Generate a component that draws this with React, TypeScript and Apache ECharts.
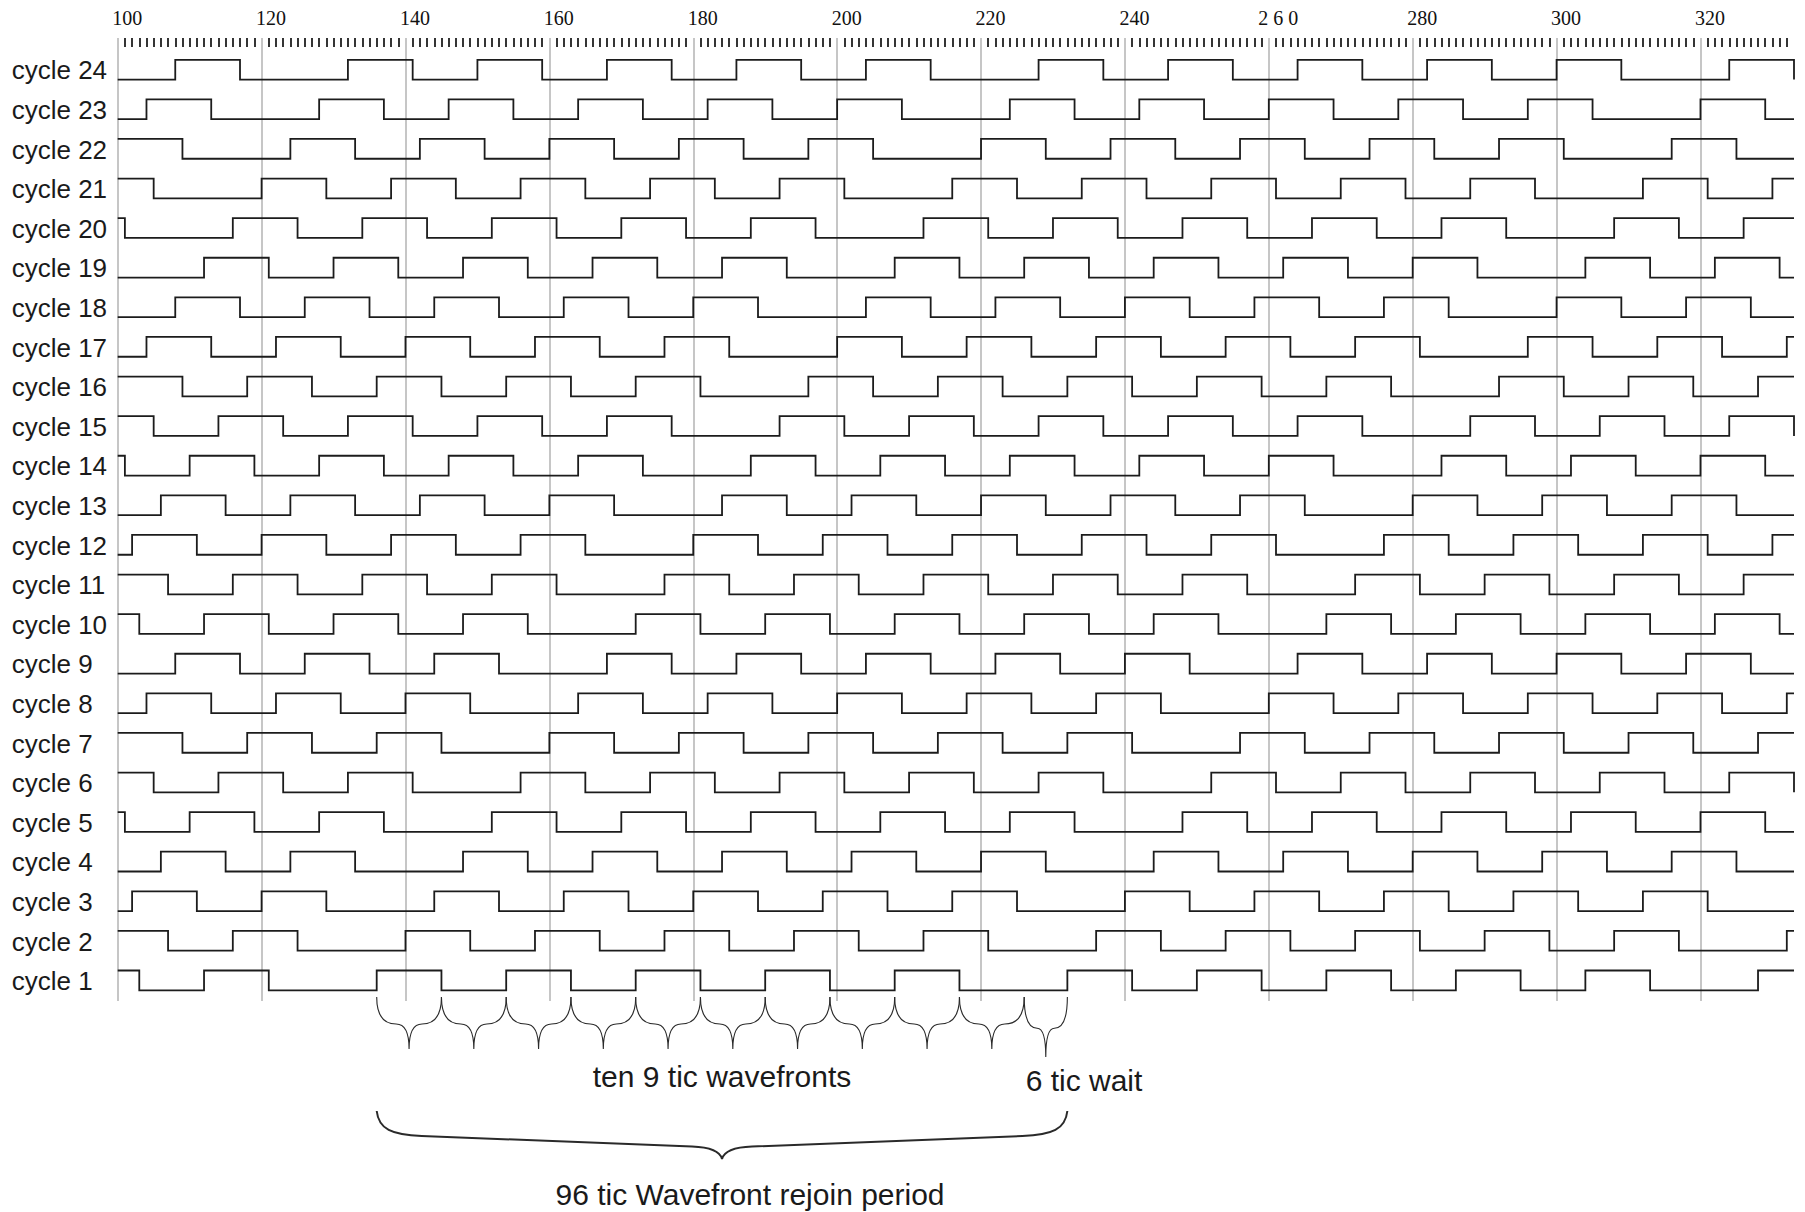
import React, { useEffect, useRef } from 'react';
import * as echarts from 'echarts';

// ---------- data ----------
const X_MIN = 100;
const X_MAX = 333;
const xTickValues = [100, 120, 140, 160, 180, 200, 220, 240, 260, 280, 300, 320];
const xTickLabels = ['100', '120', '140', '160', '180', '200', '220', '240', '2 6 0', '280', '300', '320'];

const cycleLabels = [
  'cycle 1', 'cycle 2', 'cycle 3', 'cycle 4', 'cycle 5', 'cycle 6', 'cycle 7', 'cycle 8',
  'cycle 9', 'cycle 10', 'cycle 11', 'cycle 12', 'cycle 13', 'cycle 14', 'cycle 15', 'cycle 16',
  'cycle 17', 'cycle 18', 'cycle 19', 'cycle 20', 'cycle 21', 'cycle 22', 'cycle 23', 'cycle 24',
];

// level of each cycle at x = 100 (true = high), cycle 1 first
const cycleStartHigh = [
  true, true, false, false, true, true, true, false,
  false, true, true, false, false, true, true, true,
  false, false, false, true, true, true, false, false,
];

// x positions of every edge of each wave, cycle 1 first
const cycle1 = [103, 112, 121, 136, 145, 154, 163, 172, 181, 190, 199, 208, 217, 232, 241, 250, 259, 268, 277, 286, 295, 304, 313, 328];
const cycle2 = [107, 116, 125, 140, 149, 158, 167, 176, 185, 194, 203, 212, 221, 236, 245, 254, 263, 272, 281, 290, 299, 308, 317, 332];
const cycle3 = [102, 111, 120, 129, 144, 153, 162, 171, 180, 189, 198, 207, 216, 225, 240, 249, 258, 267, 276, 285, 294, 303, 312, 321];
const cycle4 = [106, 115, 124, 133, 148, 157, 166, 175, 184, 193, 202, 211, 220, 229, 244, 253, 262, 271, 280, 289, 298, 307, 316, 325];
const cycle5 = [101, 110, 119, 128, 137, 152, 161, 170, 179, 188, 197, 206, 215, 224, 233, 248, 257, 266, 275, 284, 293, 302, 311, 320, 329];
const cycle6 = [105, 114, 123, 132, 141, 156, 165, 174, 183, 192, 201, 210, 219, 228, 237, 252, 261, 270, 279, 288, 297, 306, 315, 324, 333];
const cycle7 = [109, 118, 127, 136, 145, 160, 169, 178, 187, 196, 205, 214, 223, 232, 241, 256, 265, 274, 283, 292, 301, 310, 319, 328];
const cycle8 = [104, 113, 122, 131, 140, 149, 164, 173, 182, 191, 200, 209, 218, 227, 236, 245, 260, 269, 278, 287, 296, 305, 314, 323, 332];
const cycle9 = [108, 117, 126, 135, 144, 153, 168, 177, 186, 195, 204, 213, 222, 231, 240, 249, 264, 273, 282, 291, 300, 309, 318, 327];
const cycle10 = [103, 112, 121, 130, 139, 148, 157, 172, 181, 190, 199, 208, 217, 226, 235, 244, 253, 268, 277, 286, 295, 304, 313, 322, 331];
const cycle11 = [107, 116, 125, 134, 143, 152, 161, 176, 185, 194, 203, 212, 221, 230, 239, 248, 257, 272, 281, 290, 299, 308, 317, 326];
const cycle12 = [102, 111, 120, 129, 138, 147, 156, 165, 180, 189, 198, 207, 216, 225, 234, 243, 252, 261, 276, 285, 294, 303, 312, 321, 330];
const cycle13 = [106, 115, 124, 133, 142, 151, 160, 169, 184, 193, 202, 211, 220, 229, 238, 247, 256, 265, 280, 289, 298, 307, 316, 325];
const cycle14 = [101, 110, 119, 128, 137, 146, 155, 164, 173, 188, 197, 206, 215, 224, 233, 242, 251, 260, 269, 284, 293, 302, 311, 320, 329];
const cycle15 = [105, 114, 123, 132, 141, 150, 159, 168, 177, 192, 201, 210, 219, 228, 237, 246, 255, 264, 273, 288, 297, 306, 315, 324, 333];
const cycle16 = [109, 118, 127, 136, 145, 154, 163, 172, 181, 196, 205, 214, 223, 232, 241, 250, 259, 268, 277, 292, 301, 310, 319, 328];
const cycle17 = [104, 113, 122, 131, 140, 149, 158, 167, 176, 185, 200, 209, 218, 227, 236, 245, 254, 263, 272, 281, 296, 305, 314, 323, 332];
const cycle18 = [108, 117, 126, 135, 144, 153, 162, 171, 180, 189, 204, 213, 222, 231, 240, 249, 258, 267, 276, 285, 300, 309, 318, 327];
const cycle19 = [112, 121, 130, 139, 148, 157, 166, 175, 184, 193, 208, 217, 226, 235, 244, 253, 262, 271, 280, 289, 304, 313, 322, 331];
const cycle20 = [101, 116, 125, 134, 143, 152, 161, 170, 179, 188, 197, 212, 221, 230, 239, 248, 257, 266, 275, 284, 293, 308, 317, 326];
const cycle21 = [105, 120, 129, 138, 147, 156, 165, 174, 183, 192, 201, 216, 225, 234, 243, 252, 261, 270, 279, 288, 297, 312, 321, 330];
const cycle22 = [109, 124, 133, 142, 151, 160, 169, 178, 187, 196, 205, 220, 229, 238, 247, 256, 265, 274, 283, 292, 301, 316, 325];
const cycle23 = [104, 113, 128, 137, 146, 155, 164, 173, 182, 191, 200, 209, 224, 233, 242, 251, 260, 269, 278, 287, 296, 305, 320, 329];
const cycle24 = [108, 117, 132, 141, 150, 159, 168, 177, 186, 195, 204, 213, 228, 237, 246, 255, 264, 273, 282, 291, 300, 309, 324, 333];

const cycleEdges = [
  cycle1, cycle2, cycle3, cycle4, cycle5, cycle6, cycle7, cycle8, cycle9, cycle10, cycle11, cycle12,
  cycle13, cycle14, cycle15, cycle16, cycle17, cycle18, cycle19, cycle20, cycle21, cycle22, cycle23, cycle24,
];

// annotation braces: [start, end, kind]  kind 0 = 9 tic wavefront, 1 = wait, 2 = rejoin period
const braceItems = [
  [136, 145, 0], [145, 154, 0], [154, 163, 0], [163, 172, 0], [172, 181, 0],
  [181, 190, 0], [190, 199, 0], [199, 208, 0], [208, 217, 0], [217, 226, 0],
  [226, 232, 1],
  [136, 232, 2],
];

const annotationTexts = ['ten 9 tic wavefronts', '6 tic wait', '96 tic Wavefront rejoin period'];

// ---------- styling constants ----------
const W = 1805;
const H = 1212;
const GRID_LEFT = 117.7;
const GRID_RIGHT = 11;
const GRID_TOP = 38;
const GRID_BOTTOM = 211;
const AMP = 0.5;
const Y_MIN = -0.27;
const Y_MAX = 24.05;
const SANS = 'Liberation Sans, Arial, Helvetica, sans-serif';
const SERIF = 'Liberation Serif, Times New Roman, serif';

function buildWave(k: number, startHigh: boolean, edges: number[]) {
  const base = k - 1;
  let high = startHigh;
  const lvl = () => base + (high ? AMP : 0);
  const pts: number[][] = [[X_MIN, lvl()]];
  for (const e of edges) {
    pts.push([e, lvl()]);
    high = !high;
    pts.push([e, lvl()]);
  }
  if (pts[pts.length - 1][0] < X_MAX) pts.push([X_MAX, lvl()]);
  return pts;
}

function smallBrace(x0: number, x1: number, y0: number, yt: number) {
  const xc = (x0 + x1) / 2;
  const half = (x1 - x0) / 2;
  const ym = y0 + (yt - y0) * 0.52;
  const xsL = x0 + half * 0.6;
  const xsR = x1 - half * 0.6;
  return `M${x0},${y0} Q${x0},${ym} ${xsL},${ym} Q${xc},${ym} ${xc},${yt} ` +
    `M${x1},${y0} Q${x1},${ym} ${xsR},${ym} Q${xc},${ym} ${xc},${yt}`;
}

function bigBrace(x0: number, x1: number, y0: number, yt: number) {
  const xc = (x0 + x1) / 2;
  const h = yt - y0;
  return `M${x0},${y0} C${x0 + 2},${y0 + h * 0.38} ${x0 + 15},${y0 + h * 0.5} ${x0 + 45},${y0 + h * 0.52} ` +
    `L${xc - 30},${y0 + h * 0.74} Q${xc - 3},${y0 + h * 0.76} ${xc},${yt} ` +
    `M${x1},${y0} C${x1 - 2},${y0 + h * 0.38} ${x1 - 15},${y0 + h * 0.5} ${x1 - 45},${y0 + h * 0.52} ` +
    `L${xc + 30},${y0 + h * 0.74} Q${xc + 3},${y0 + h * 0.76} ${xc},${yt}`;
}

export default function App() {
  const ref = useRef<HTMLDivElement>(null);

  useEffect(() => {
    if (!ref.current) return;
    const chart = echarts.init(ref.current, undefined, { renderer: 'svg' });

    const waveSeries = cycleEdges.map((edges, i) => ({
      type: 'line',
      name: cycleLabels[i],
      data: buildWave(i + 1, cycleStartHigh[i], edges),
      showSymbol: false,
      symbol: 'none',
      silent: true,
      lineStyle: { color: '#1c1c1c', width: 1.8, cap: 'butt', join: 'miter' },
      z: 3,
    }));

    const braceSeries = {
      type: 'custom',
      coordinateSystem: 'cartesian2d',
      silent: true,
      clip: false,
      data: braceItems.map((b) => [b[0], b[1], b[2], 0]),
      encode: { x: [0, 1], y: 3 },
      renderItem: (params: any, api: any) => {
        const x0 = api.coord([api.value(0), 0])[0];
        const x1 = api.coord([api.value(1), 0])[0];
        const kind = api.value(2);
        let d: string;
        let lw = 1.1;
        if (kind === 2) {
          d = bigBrace(x0, x1, 1111, 1159);
          lw = 2;
        } else if (kind === 1) {
          d = smallBrace(x0, x1, 997, 1057);
        } else {
          d = smallBrace(x0, x1, 997, 1049);
        }
        return {
          type: 'path',
          shape: { pathData: d },
          style: { fill: 'none', stroke: '#2a2a2a', lineWidth: lw },
        };
      },
      z: 4,
    };

    const option: any = {
      animation: false,
      backgroundColor: '#ffffff',
      grid: {
        left: GRID_LEFT,
        right: GRID_RIGHT,
        top: GRID_TOP,
        bottom: GRID_BOTTOM,
        containLabel: false,
        outerBoundsMode: 'none',
      },
      xAxis: {
        type: 'value',
        position: 'top',
        min: X_MIN,
        max: X_MAX,
        interval: 20,
        axisLine: { show: false, onZero: false },
        axisTick: { show: false, inside: true },
        minorTick: {
          show: true,
          splitNumber: 20,
          length: 9,
          lineStyle: { color: '#111111', width: 1.7 },
        },
        splitLine: {
          show: true,
          showMaxLine: false,
          lineStyle: { color: '#b8b8b8', width: 1.6 },
        },
        minorSplitLine: { show: false },
        axisLabel: {
          margin: 10,
          fontFamily: SERIF,
          fontSize: 20,
          color: '#111111',
          padding: [0, 0, 0, 19],
          showMaxLabel: false,
          formatter: (v: number) => {
            const idx = xTickValues.indexOf(Math.round(v));
            return idx >= 0 && Math.abs(v - xTickValues[idx]) < 1e-6 ? xTickLabels[idx] : '';
          },
        },
      },
      yAxis: {
        type: 'value',
        min: Y_MIN,
        max: Y_MAX,
        axisLine: { show: false, onZero: false },
        axisTick: { show: false },
        splitLine: { show: false },
        axisLabel: {
          customValues: cycleLabels.map((_, i) => i + 0.23),
          formatter: (v: number) => cycleLabels[Math.round(v - 0.23)] ?? '',
          align: 'left',
          margin: 106,
          fontSize: 26,
          fontFamily: SANS,
          color: '#1a1a1a',
        },
      },
      series: [...waveSeries, braceSeries],
      graphic: [
        {
          type: 'text',
          x: 722,
          y: 1076,
          style: {
            text: annotationTexts[0],
            fontSize: 30,
            fontFamily: SANS,
            fill: '#1a1a1a',
            textAlign: 'center',
            textVerticalAlign: 'middle',
          },
        },
        {
          type: 'text',
          x: 1084,
          y: 1080,
          style: {
            text: annotationTexts[1],
            fontSize: 30,
            fontFamily: SANS,
            fill: '#1a1a1a',
            textAlign: 'center',
            textVerticalAlign: 'middle',
          },
        },
        {
          type: 'text',
          x: 750,
          y: 1194,
          style: {
            text: annotationTexts[2],
            fontSize: 30,
            fontFamily: SANS,
            fill: '#1a1a1a',
            textAlign: 'center',
            textVerticalAlign: 'middle',
          },
        },
      ],
    };

    chart.setOption(option);
    return () => {
      chart.dispose();
    };
  }, []);

  return (
    <div
      ref={ref}
      style={{ position: 'fixed', left: 0, top: 0, width: W, height: H, background: '#fff' }}
    />
  );
}
